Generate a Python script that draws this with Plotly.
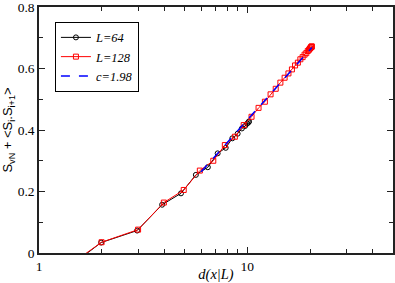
import plotly.graph_objects as go

# L=64 series: d(x|L) and S_vN + <S_i.S_i+1>
d_L64 = [0.998, 1.987, 2.957, 3.898, 4.802, 5.659, 6.462, 7.203, 7.874, 8.469,
         8.983, 9.411, 9.747, 9.990, 10.137, 10.186]
y_L64 = [-0.12, 0.034, 0.073, 0.157, 0.194, 0.254, 0.279, 0.324, 0.342, 0.373,
         0.388, 0.405, 0.413, 0.421, 0.425, 0.428]

# L=128 series
d_L128 = [1.000, 1.997, 2.989, 3.974, 4.950, 5.914, 6.863, 7.796, 8.710, 9.604,
          10.473, 11.318, 12.136, 12.924, 13.681, 14.405, 15.095, 15.748, 16.363, 16.939,
          17.474, 17.966, 18.416, 18.821, 19.181, 19.495, 19.761, 19.981, 20.152, 20.274,
          20.348, 20.372]
y_L128 = [-0.11, 0.035, 0.076, 0.164, 0.205, 0.268, 0.300, 0.351, 0.378, 0.416,
          0.443, 0.472, 0.492, 0.516, 0.534, 0.554, 0.570, 0.584, 0.597, 0.610,
          0.619, 0.630, 0.637, 0.645, 0.650, 0.657, 0.661, 0.665, 0.668, 0.670,
          0.671, 0.672]

# fit line c=1.98
d_fit = [6.0, 20.4]
y_fit = [0.264, 0.668]

x_tickvals = [1, 10]
x_ticktext = ["1", "10"]
x_minor = [2, 3, 4, 5, 6, 7, 8, 9, 20, 30, 40]
y_tickvals = [0, 0.2, 0.4, 0.6, 0.8]
y_ticktext = ["0", "0.2", "0.4", "0.6", "0.8"]

fig = go.Figure()
fig.add_trace(go.Scatter(x=d_L64, y=y_L64, mode="lines+markers", name="L=64",
                         line=dict(color="black", width=1),
                         marker=dict(symbol="circle-open", size=5, color="black",
                                     line=dict(width=1))))
fig.add_trace(go.Scatter(x=d_L128, y=y_L128, mode="lines+markers", name="L=128",
                         line=dict(color="red", width=1),
                         marker=dict(symbol="square-open", size=5, color="red",
                                     line=dict(width=1))))
fig.add_trace(go.Scatter(x=d_fit, y=y_fit, mode="lines", name="c=1.98",
                         line=dict(color="blue", width=1.5, dash="dash")))

axis_common = dict(showline=True, linecolor="#222", linewidth=1.5, mirror="allticks",
                   ticks="inside", tickcolor="#222", tickwidth=1, ticklen=6,
                   showgrid=False, zeroline=False, ticklabeloverflow="allow",
                   tickfont=dict(family="Liberation Serif", size=13.5, color="black"))

fig.update_xaxes(type="log", range=[0, 1.699], tickmode="array",
                 tickvals=x_tickvals, ticktext=x_ticktext,
                 minor=dict(tickmode="array", tickvals=x_minor, ticks="inside",
                            ticklen=4, tickcolor="#222", tickwidth=1),
                 title=dict(text="d(x|L)", standoff=3,
                            font=dict(family="Liberation Serif", size=14.5,
                                      color="black", style="italic")),
                 **axis_common)
fig.update_yaxes(range=[0, 0.8], tickmode="array",
                 tickvals=y_tickvals, ticktext=y_ticktext,
                 minor=dict(dtick=0.1, ticks="inside", ticklen=4,
                            tickcolor="#222", tickwidth=1),
                 title=dict(text="S<sub>vN</sub> + &lt;S<sub>i</sub>.S<sub>i+1</sub>&gt;",
                            standoff=2,
                            font=dict(family="Liberation Sans", size=13, color="black")),
                 **axis_common)

fig.update_layout(
    width=395, height=283,
    margin=dict(l=39, r=2, t=7, b=30, autoexpand=False),
    paper_bgcolor="white", plot_bgcolor="white",
    showlegend=True,
    legend=dict(x=0.045, y=0.94, xanchor="left", yanchor="top",
                bgcolor="white", bordercolor="black", borderwidth=1,
                font=dict(family="Liberation Serif", size=12.5, color="black",
                          style="italic"),
                tracegroupgap=0, itemwidth=30),
)

fig.write_html("out.html", config={"displayModeBar": False},
               post_script="document.body.style.margin='0';document.body.style.overflow='hidden';")
